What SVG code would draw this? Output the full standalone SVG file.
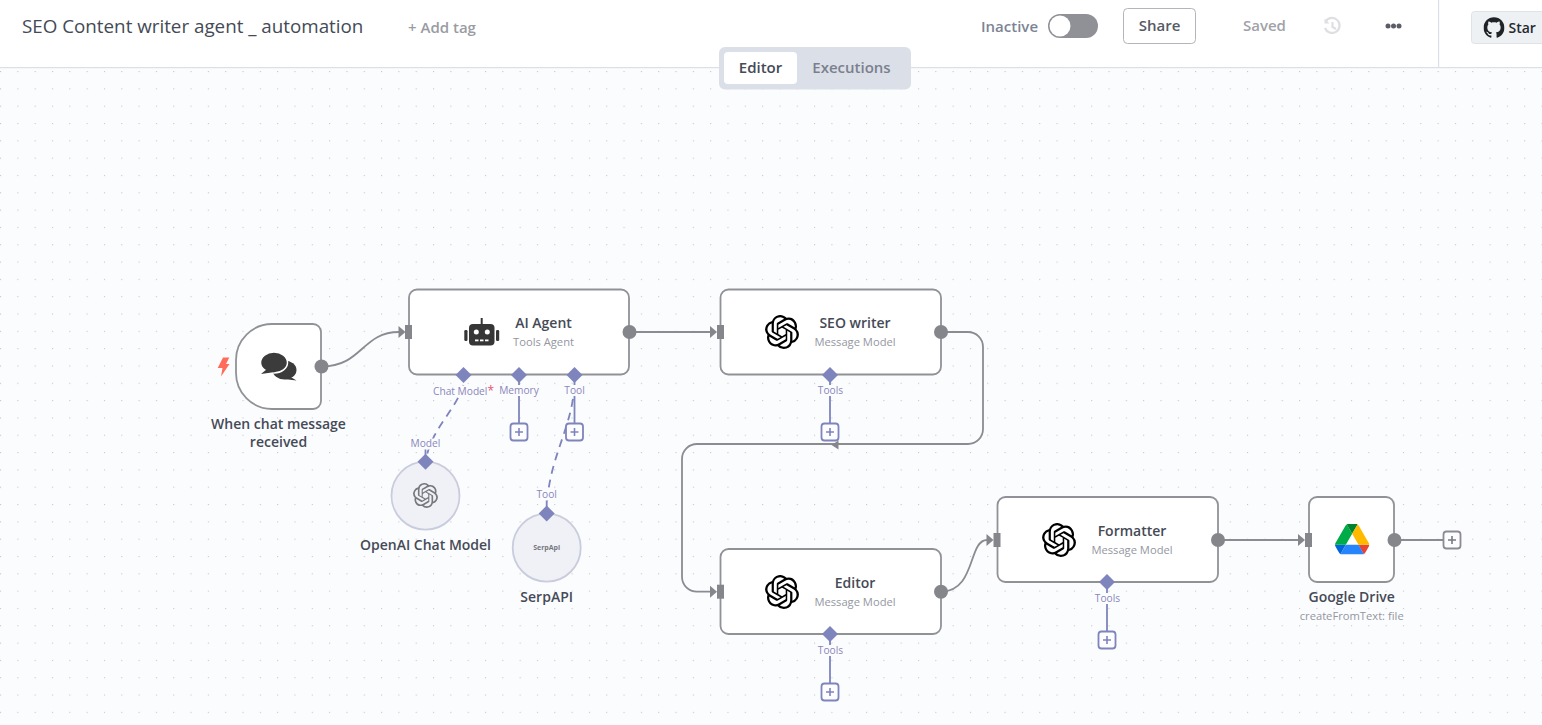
<svg xmlns="http://www.w3.org/2000/svg" width="1542" height="725" viewBox="0 0 1542 725">
<style>
text{font-family:"Open Sans","Noto Sans","Liberation Sans",sans-serif}
.node{fill:#fff;stroke:#909298;stroke-width:1.8}
.sub{fill:#f0f1f6;stroke:#c9ccdc;stroke-width:1.8}
.t{font-size:14px;font-weight:600;fill:#454a56;text-anchor:middle}
.s{font-size:11.2px;fill:#94979f;text-anchor:middle}
.p{font-size:10.2px;fill:#8a86bb;text-anchor:middle}
.main{fill:none;stroke:#8a8c92;stroke-width:1.8}
.ai{fill:none;stroke:#7e84bc;stroke-width:1.8}
.dash{fill:none;stroke:#7e84bc;stroke-width:1.8;stroke-dasharray:8 6}
.dot{fill:#84868c}
.sq{fill:#84868c}
.dia{fill:#7e84bc}
.lb{fill:#fbfcfe}
.box{fill:#fdfdff;stroke:#7e84bc;stroke-width:1.8}
.gbox{fill:#fdfdff;stroke:#8a8c92;stroke-width:1.8}
.pl{stroke:#7e84bc;stroke-width:1.6;fill:none}
.gpl{stroke:#777a80;stroke-width:1.6;fill:none}
.h{font-size:15px;font-weight:600}
</style>
<defs>
<pattern id="grid" patternUnits="userSpaceOnUse" x="0" y="71" width="17.32" height="17.32"><rect x="0" y="0" width="1.1" height="1.1" fill="#c4c6cc"/></pattern>
<symbol id="oai" viewBox="0 0 24 24"><path d="M22.2819 9.8211a5.9847 5.9847 0 0 0-.5157-4.9108 6.0462 6.0462 0 0 0-6.5098-2.9A6.0651 6.0651 0 0 0 4.9807 4.1818a5.9847 5.9847 0 0 0-3.9977 2.9 6.0462 6.0462 0 0 0 .7427 7.0966 5.98 5.98 0 0 0 .511 4.9107 6.051 6.051 0 0 0 6.5146 2.9001A5.9847 5.9847 0 0 0 13.2599 24a6.0557 6.0557 0 0 0 5.7718-4.2058 5.9894 5.9894 0 0 0 3.9977-2.9001 6.0557 6.0557 0 0 0-.7475-7.0729zm-9.022 12.6081a4.4755 4.4755 0 0 1-2.8764-1.0408l.1419-.0804 4.7783-2.7582a.7948.7948 0 0 0 .3927-.6813v-6.7369l2.02 1.1686a.071.071 0 0 1 .038.052v5.5826a4.504 4.504 0 0 1-4.4945 4.4944zm-9.6607-4.1254a4.4708 4.4708 0 0 1-.5346-3.0137l.142.0852 4.783 2.7582a.7712.7712 0 0 0 .7806 0l5.8428-3.3685v2.3324a.0804.0804 0 0 1-.0332.0615L9.74 19.9502a4.4992 4.4992 0 0 1-6.1408-1.6464zM2.3408 7.8956a4.485 4.485 0 0 1 2.3655-1.9728V11.6a.7664.7664 0 0 0 .3879.6765l5.8144 3.3543-2.0201 1.1685a.0757.0757 0 0 1-.071 0l-4.8303-2.7865A4.504 4.504 0 0 1 2.3408 7.872zm16.5963 3.8558L13.1038 8.364 15.1192 7.2a.0757.0757 0 0 1 .071 0l4.8303 2.7913a4.4944 4.4944 0 0 1-.6765 8.1042v-5.6772a.79.79 0 0 0-.407-.667zm2.0107-3.0231l-.142-.0852-4.7735-2.7818a.7759.7759 0 0 0-.7854 0L9.409 9.2297V6.8974a.0662.0662 0 0 1 .0284-.0615l4.8303-2.7866a4.4992 4.4992 0 0 1 6.6802 4.66zM8.3065 12.863l-2.02-1.1638a.0804.0804 0 0 1-.038-.0567V6.0742a4.4992 4.4992 0 0 1 7.3757-3.4537l-.142.0805L8.704 5.459a.7948.7948 0 0 0-.3927.6813zm1.0976-2.3654l2.602-1.4998 2.6069 1.4998v2.9994l-2.5974 1.4997-2.6067-1.4997Z"/></symbol>
<path id="dm" d="M0-8L8 0L0 8L-8 0Z"/>
<path id="tri" d="M-7-6L0 0L-7 6Z"/>
</defs>
<rect width="1542" height="725" fill="#fbfcfe"/>
<rect y="68" width="1542" height="657" fill="url(#grid)"/>
<g id="header">
<rect width="1542" height="67" fill="#fff"/>
<rect y="67" width="1542" height="1.2" fill="#dbdfe7"/>
<rect x="1438" y="0" width="1.2" height="67" fill="#dbdfe7"/>
<text x="22" y="33" font-size="18.8" fill="#444a56">SEO Content writer agent _ automation</text>
<text x="408" y="33" font-size="15" font-weight="600" fill="#9a9ca3">+ Add tag</text>
<text x="981" y="32" class="h" fill="#7d8494">Inactive</text>
<rect x="1048" y="14" width="50" height="24" rx="12" fill="#909097"/>
<circle cx="1060" cy="26" r="10.5" fill="#fff"/>
<rect x="1123.5" y="8.5" width="72" height="35" rx="4" fill="#fff" stroke="#b3b5bc"/>
<text x="1159.500" y="31" class="h" fill="#555a64" text-anchor="middle">Share</text>
<text x="1243" y="31" class="h" fill="#a0a2a8">Saved</text>
<g id="history-icon" fill="none" stroke="#dedfe2" stroke-width="2.2"><path d="M1326 21A7.5 7.5 0 1 1 1325 28"/><path d="M1332.5 22v5l3.5 2"/><path d="M1324.5 18.500v5h5" fill="#dedfe2" stroke="none"/></g>
<g id="more-icon" fill="#5a5d66"><circle cx="1388" cy="26" r="2.500"/><circle cx="1393.500" cy="26" r="2.500"/><circle cx="1399" cy="26" r="2.500"/></g>
<rect x="1471.500" y="11.500" width="80" height="32" rx="3" fill="#eef1f4" stroke="#dfe3e8"/>
<svg x="1483.500" y="17" width="21" height="21" viewBox="0 0 24 24"><path fill="#1f2328" d="M12 .297c-6.63 0-12 5.373-12 12 0 5.303 3.438 9.8 8.205 11.385.6.113.82-.258.82-.577 0-.285-.01-1.04-.015-2.04-3.338.724-4.042-1.61-4.042-1.61C4.422 18.07 3.633 17.7 3.633 17.7c-1.087-.744.084-.729.084-.729 1.205.084 1.838 1.236 1.838 1.236 1.07 1.835 2.809 1.305 3.495.998.108-.776.417-1.305.76-1.605-2.665-.3-5.466-1.332-5.466-5.93 0-1.31.465-2.38 1.235-3.22-.135-.303-.54-1.523.105-3.176 0 0 1.005-.322 3.3 1.23.96-.267 1.98-.399 3-.405 1.02.006 2.04.138 3 .405 2.28-1.552 3.285-1.23 3.285-1.23.645 1.653.24 2.873.12 3.176.765.84 1.23 1.91 1.23 3.22 0 4.61-2.805 5.625-5.475 5.92.42.36.81 1.096.81 2.22 0 1.606-.015 2.896-.015 3.286 0 .315.21.69.825.57C20.565 22.092 24 17.592 24 12.297c0-6.627-5.373-12-12-12"/></svg>
<text x="1508.500" y="33" font-size="14" font-weight="600" fill="#24292f">Star</text>
</g>
<g id="tabs">
<rect x="719" y="47" width="192" height="42.500" rx="6" fill="#dbdfe7"/>
<rect x="724" y="52" width="73" height="32" rx="4" fill="#fff"/>
<text x="760.500" y="73" class="h" fill="#444a56" text-anchor="middle">Editor</text>
<text x="851.500" y="73" class="h" fill="#7a7f8f" text-anchor="middle">Executions</text>
</g>
<g id="connectors">
<path class="main" d="M322 366.500C362 366.500 362 332 399 332"/>
<use href="#tri" x="405.500" y="332" fill="#84868c"/>
<path class="main" d="M630 332H711"/>
<use href="#tri" x="717" y="332" fill="#84868c"/>
<path class="main" d="M941 332H968a15 15 0 0 1 15 15V429a15 15 0 0 1-15 15H697a15 15 0 0 0-15 15V576.700a15 15 0 0 0 15 15H711"/>
<path d="M831.500 445L838.500 440.500V449.500Z" fill="#84868c"/>
<use href="#tri" x="717" y="591.700" fill="#84868c"/>
<path class="main" d="M941 591.700C976 591.700 968 540 987 540"/>
<use href="#tri" x="993.500" y="540" fill="#84868c"/>
<path class="main" d="M1218 540H1299"/>
<use href="#tri" x="1305" y="540" fill="#84868c"/>
<path class="main" d="M1395 540H1443"/>
<path class="ai" d="M519 375V423"/>
<path class="ai" d="M574.500 375V423"/>
<path class="ai" d="M830 375V423"/>
<path class="ai" d="M830 634V683"/>
<path class="ai" d="M1107 582V631"/>
<path class="dash" d="M463.500 385C455 412 431 428 425.500 462"/>
<path class="dash" d="M574.500 385C572 430 547 460 546.700 513"/>
<path class="ai" d="M425.500 448V462"/>
<path class="ai" d="M546.700 500V513"/>
</g>
<g id="trigger">
<path class="node" d="M272 324H313a8 8 0 0 1 8 8V401a8 8 0 0 1-8 8H272a36 36 0 0 1-36-36V360a36 36 0 0 1 36-36Z"/>
<path d="M223 357.500H229.300L226 364H229.500L221 376.500L222.500 368H217.700Z" fill="#ff6d5a"/>
<g id="chat-icon" fill="#3b3b3b">
<ellipse cx="284.500" cy="370" rx="12" ry="9.500"/><path d="M289 376L296.500 380.500L284 379Z"/>
<ellipse cx="274" cy="362.500" rx="13.500" ry="10.500" stroke="#fff" stroke-width="1.500"/><path d="M267 369L261 374L275 372Z"/>
</g>
<circle class="dot" cx="321.500" cy="366.500" r="7"/>
<text class="t" x="278.500" y="429">When chat message</text>
<text class="t" x="278.500" y="447">received</text>
</g>
<g id="ai-agent">
<rect class="node" x="409" y="289.500" width="220" height="85" rx="8"/>
<g id="robot-icon" fill="#363636">
<rect x="469" y="324" width="25.500" height="21.500" rx="4"/><rect x="480.700" y="318" width="2" height="7"/>
<rect x="464.300" y="330" width="3.200" height="11" rx="1.200"/><rect x="496" y="330" width="3.200" height="11" rx="1.200"/>
<circle cx="476.300" cy="332" r="2.500" fill="#fff"/><circle cx="487.300" cy="332" r="2.500" fill="#fff"/>
<g fill="#fff"><rect x="475" y="339.500" width="3.500" height="1.800"/><rect x="480" y="339.500" width="3.500" height="1.800"/><rect x="485" y="339.500" width="3.500" height="1.800"/></g>
</g>
<text class="t" x="543.500" y="328">AI Agent</text>
<text class="s" x="543.500" y="346">Tools Agent</text>
<rect class="sq" x="405" y="325" width="7" height="14"/>
<circle class="dot" cx="629.500" cy="332" r="7"/>
<use href="#dm" x="463.500" y="375" class="dia"/><use href="#dm" x="519" y="375" class="dia"/><use href="#dm" x="574.500" y="375" class="dia"/>
<rect class="lb" x="432" y="385.500" width="63" height="11"/><rect class="lb" x="499" y="385" width="40" height="11"/><rect class="lb" x="563" y="385" width="23" height="11"/>
<text class="p" x="463.500" y="395">Chat Model<tspan fill="#f0506e" font-size="12">*</tspan></text>
<text class="p" x="519" y="394">Memory</text>
<text class="p" x="574.500" y="394">Tool</text>
<rect class="box" x="510.500" y="423.500" width="17" height="17" rx="3"/><path class="pl" d="M515 432H523M519 428V436"/>
<rect class="box" x="566" y="423.500" width="17" height="17" rx="3"/><path class="pl" d="M570.500 432H578.500M574.500 428V436"/>
</g>
<g id="openai-chat-model">
<circle class="sub" cx="425.500" cy="495.700" r="34"/>
<use href="#oai" x="413" y="483" width="25" height="25" fill="#77787e"/>
<use href="#dm" x="425.500" y="461.700" class="dia"/>
<rect class="lb" x="409" y="438.500" width="33" height="11"/>
<text class="p" x="425.500" y="447">Model</text>
<text class="t" x="425.500" y="550">OpenAI Chat Model</text>
</g>
<g id="serpapi">
<circle class="sub" cx="546.700" cy="547.700" r="34"/>
<text x="546.700" y="550" font-size="7" font-weight="700" fill="#77787e" text-anchor="middle">SerpApi</text>
<use href="#dm" x="546.700" y="513.500" class="dia"/>
<rect class="lb" x="535" y="489.500" width="24" height="11"/>
<text class="p" x="546.700" y="498">Tool</text>
<text class="t" x="546.700" y="602">SerpAPI</text>
</g>
<g id="seo-writer">
<rect class="node" x="720.500" y="289.500" width="220.500" height="85" rx="8"/>
<use href="#oai" x="765" y="315" width="34" height="34" fill="#000"/>
<text class="t" x="855" y="328">SEO writer</text>
<text class="s" x="855" y="346">Message Model</text>
<rect class="sq" x="717" y="325" width="7" height="14"/>
<circle class="dot" cx="941" cy="332" r="7"/>
<use href="#dm" x="830" y="375" class="dia"/>
<rect class="lb" x="817" y="385" width="26" height="11"/>
<text class="p" x="830.500" y="394">Tools</text>
<rect class="box" x="821.500" y="423.500" width="17" height="17" rx="3"/><path class="pl" d="M826 432H834M830 428V436"/>
</g>
<g id="editor">
<rect class="node" x="720.500" y="549" width="220.500" height="85" rx="8"/>
<use href="#oai" x="765" y="575" width="34" height="34" fill="#000"/>
<text class="t" x="855" y="588">Editor</text>
<text class="s" x="855" y="606">Message Model</text>
<rect class="sq" x="717" y="584.700" width="7" height="14"/>
<circle class="dot" cx="941" cy="591.700" r="7"/>
<use href="#dm" x="830" y="634" class="dia"/>
<rect class="lb" x="817" y="645" width="26" height="11"/>
<text class="p" x="830.500" y="654">Tools</text>
<rect class="box" x="821.500" y="683.500" width="17" height="17" rx="3"/><path class="pl" d="M826 692H834M830 688V696"/>
</g>
<g id="formatter">
<rect class="node" x="997.500" y="497" width="220.500" height="85" rx="8"/>
<use href="#oai" x="1042" y="523" width="34" height="34" fill="#000"/>
<text class="t" x="1132" y="536">Formatter</text>
<text class="s" x="1132" y="554">Message Model</text>
<rect class="sq" x="993.500" y="533" width="7" height="14"/>
<circle class="dot" cx="1218" cy="540" r="7"/>
<use href="#dm" x="1107" y="582" class="dia"/>
<rect class="lb" x="1094" y="593" width="26" height="11"/>
<text class="p" x="1107.500" y="602">Tools</text>
<rect class="box" x="1098.500" y="631.500" width="17" height="17" rx="3"/><path class="pl" d="M1103 640H1111M1107 636V644"/>
</g>
<g id="google-drive">
<rect class="node" x="1309" y="497" width="85" height="85" rx="8"/>
<svg x="1335" y="524" width="34.300" height="30.600" viewBox="0 0 87.300 78">
<path d="m6.600 66.850 3.850 6.650c.8 1.400 1.950 2.500 3.300 3.300l13.750-23.800h-27.500c0 1.550.4 3.100 1.200 4.500z" fill="#0066da"/>
<path d="m43.650 25-13.750-23.800c-1.350.8-2.500 1.900-3.300 3.300l-25.400 44a9.060 9.060 0 0 0 -1.200 4.500h27.500z" fill="#00ac47"/>
<path d="m73.550 76.800c1.350-.8 2.500-1.900 3.300-3.300l1.600-2.750 7.650-13.250c.8-1.400 1.200-2.950 1.200-4.500h-27.502l5.852 11.500z" fill="#ea4335"/>
<path d="m43.650 25 13.750-23.800c-1.350-.8-2.900-1.200-4.500-1.200h-18.500c-1.600 0-3.150.45-4.500 1.200z" fill="#00832d"/>
<path d="m59.800 53h-32.300l-13.750 23.800c1.350.8 2.900 1.200 4.500 1.200h50.800c1.600 0 3.150-.45 4.500-1.200z" fill="#2684fc"/>
<path d="m73.400 26.500-12.700-22c-.8-1.400-1.950-2.500-3.300-3.300l-13.750 23.800 16.150 28h27.450c0-1.550-.4-3.100-1.200-4.500z" fill="#ffba00"/>
</svg>
<rect class="sq" x="1305" y="533" width="7" height="14"/>
<circle class="dot" cx="1394.500" cy="540" r="7"/>
<text class="t" x="1351.700" y="602">Google Drive</text>
<text class="s" x="1351.700" y="620">createFromText: file</text>
<rect class="gbox" x="1443.500" y="531.500" width="17" height="17" rx="3"/><path class="gpl" d="M1448 540H1456M1452 536V544"/>
</g>
</svg>
